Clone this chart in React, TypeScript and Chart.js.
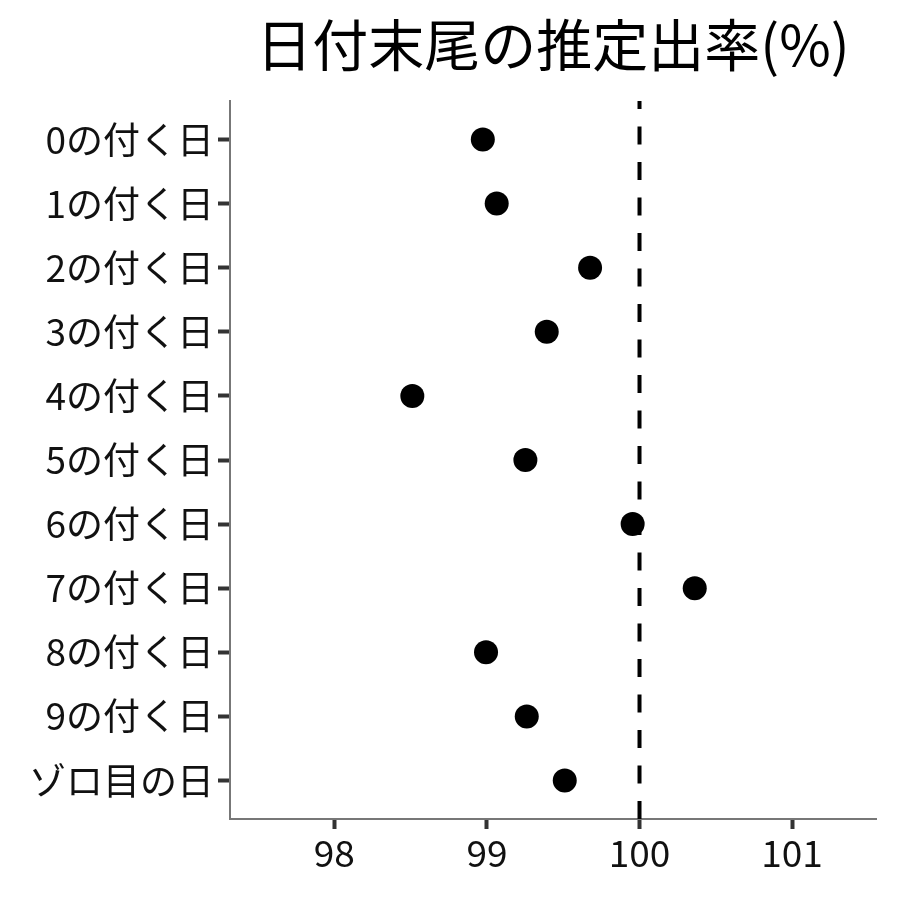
import React, { useEffect, useRef } from "react";
import { Chart, registerables } from "chart.js";

Chart.register(...registerables);

const TITLE = "日付末尾の推定出率(%)";
const categories = [
  "0の付く日",
  "1の付く日",
  "2の付く日",
  "3の付く日",
  "4の付く日",
  "5の付く日",
  "6の付く日",
  "7の付く日",
  "8の付く日",
  "9の付く日",
  "ゾロ目の日",
];
const rates = [98.973, 99.064, 99.676, 99.392, 98.511, 99.252, 99.955, 100.362, 98.994, 99.261, 99.51];
const xTicks = [98, 99, 100, 101];
const referenceValue = 100;
const xMin = 97.316;
const xMax = 101.55;

const FONT = "'Noto Sans CJK JP', 'Noto Sans', sans-serif";

const titlePlugin = {
  id: "centerTitle",
  afterDraw(chart: any) {
    const { ctx, chartArea } = chart;
    ctx.save();
    ctx.font = `56px ${FONT}`;
    ctx.fillStyle = "#000";
    ctx.textAlign = "center";
    ctx.textBaseline = "middle";
    ctx.fillText(TITLE, (chartArea.left + chartArea.right) / 2, 45);
    ctx.restore();
  },
};

export default function App() {
  const ref = useRef<HTMLCanvasElement | null>(null);

  useEffect(() => {
    if (!ref.current) return;
    const yMin = 0.4;
    const yMax = categories.length + 0.6;
    const chart = new Chart(ref.current, {
      type: "scatter",
      data: {
        datasets: [
          {
            type: "line",
            data: [
              { x: referenceValue, y: yMax },
              { x: referenceValue, y: yMin },
            ],
            borderColor: "#000",
            borderWidth: 4,
            borderDash: [18, 17.5],
            pointRadius: 0,
            fill: false,
          } as any,
          {
            type: "scatter",
            data: rates.map((v, i) => ({ x: v, y: i + 1 })),
            backgroundColor: "#000",
            borderColor: "#000",
            borderWidth: 0,
            pointRadius: 12,
            pointHoverRadius: 12,
          },
        ],
      },
      options: {
        animation: false,
        responsive: false,
        events: [],
        layout: { padding: { top: 101, right: 24, bottom: 0, left: 0 } },
        plugins: {
          legend: { display: false },
          title: { display: false },
          tooltip: { enabled: false },
        },
        scales: {
          x: {
            type: "linear",
            min: xMin,
            max: xMax,
            afterBuildTicks: (s: any) => {
              s.ticks = xTicks.map((v) => ({ value: v }));
            },
            afterFit: (s: any) => {
              s.height = 81;
            },
            ticks: {
              color: "#111",
              font: { family: FONT, size: 37 },
              padding: 2,
              maxRotation: 0,
              callback: (v: any) => String(v),
            },
            grid: {
              display: true,
              drawOnChartArea: false,
              drawTicks: true,
              tickLength: 10,
              tickWidth: 4,
              tickColor: "#333",
            },
            border: { display: true, color: "#777", width: 2 },
          },
          y: {
            type: "linear",
            min: yMin,
            max: yMax,
            reverse: true,
            afterBuildTicks: (s: any) => {
              s.ticks = categories.map((_, i) => ({ value: i + 1 }));
            },
            afterFit: (s: any) => {
              s.width = 230;
            },
            ticks: {
              color: "#111",
              font: { family: FONT, size: 37 },
              padding: 4,
              callback: (v: any) => categories[Math.round(Number(v)) - 1] ?? "",
            },
            grid: {
              display: true,
              drawOnChartArea: false,
              drawTicks: true,
              tickLength: 12,
              tickWidth: 4,
              tickColor: "#333",
            },
            border: { display: true, color: "#777", width: 2 },
          },
        },
      },
      plugins: [titlePlugin],
    } as any);
    return () => chart.destroy();
  }, []);

  return (
    <div style={{ position: "absolute", left: 0, top: 0, width: 900, height: 900, background: "#fff" }}>
      <canvas ref={ref} width={900} height={900} style={{ width: 900, height: 900 }} />
    </div>
  );
}
